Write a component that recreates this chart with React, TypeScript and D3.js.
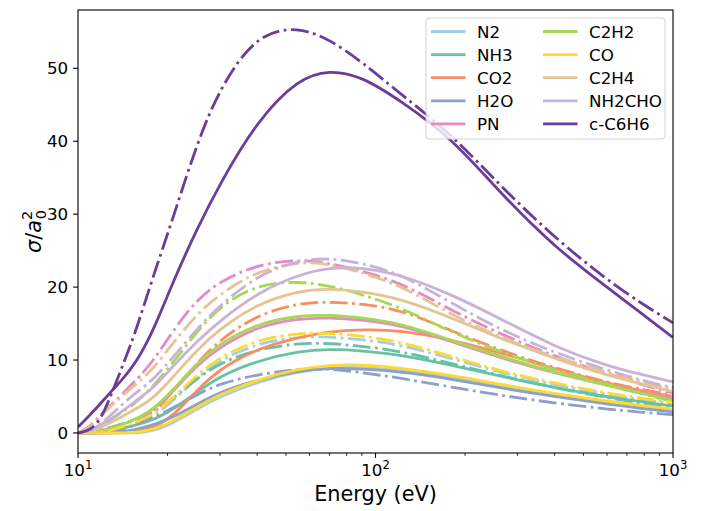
import React from "react";
import * as d3 from "d3";

const energies = [10, 11, 12, 13, 14, 15, 16, 18, 21, 25, 30, 40, 55, 70, 90, 122, 180, 268, 400, 590, 800, 1000];

const molecules = ["N2", "NH3", "CO2", "H2O", "PN", "C2H2", "CO", "C2H4", "NH2CHO", "c-C6H6"];
const colors = ["#a6cee3", "#66c2a5", "#fc8d62", "#8da0cb", "#e78ac3", "#a6d854", "#ffd92f", "#e5c494", "#cab2d6", "#6a3d9a"];

const n2Solid = [0, 0, 0, 0, 0, 0, 0.02, 0.25, 1.4, 3.2, 5.0, 7.0, 8.4, 8.95, 9.05, 8.6, 7.6, 6.4, 5.2, 4.2, 3.5, 3.1];
const n2Dash = [0, 0, 0.05, 0.2, 0.5, 0.9, 1.3, 2.3, 4.5, 7.5, 10.0, 12.3, 13.2, 13.2, 12.8, 12.1, 10.2, 8.2, 6.6, 5.3, 4.5, 4.0];
const nh3Solid = [0, 0.05, 0.2, 0.4, 0.65, 0.9, 1.2, 1.8, 3.3, 5.5, 7.8, 9.9, 11.2, 11.5, 11.3, 10.7, 9.3, 7.7, 6.2, 5.0, 4.2, 3.7];
const nh3Dash = [0, 0.1, 0.4, 0.8, 1.2, 1.6, 2.0, 2.8, 4.8, 7.4, 9.6, 11.5, 12.3, 12.3, 11.9, 11.2, 9.5, 7.8, 6.2, 4.9, 4.0, 3.5];
const co2Solid = [0, 0, 0, 0, 0.02, 0.15, 0.3, 0.7, 2.4, 5.8, 8.8, 11.6, 13.1, 13.9, 14.2, 14.1, 12.8, 10.9, 8.8, 6.9, 5.7, 5.0];
const co2Dash = [0, 0, 0, 0.1, 0.4, 0.9, 1.5, 2.8, 5.8, 9.5, 12.8, 16.2, 17.8, 18.0, 17.7, 16.9, 14.0, 11.2, 8.9, 7.0, 5.9, 5.2];
const h2oSolid = [0, 0, 0, 0.02, 0.15, 0.35, 0.6, 1.1, 2.2, 3.9, 5.6, 7.3, 8.5, 8.9, 8.8, 8.4, 7.4, 6.1, 5.0, 4.0, 3.3, 2.9];
const h2oDash = [0, 0, 0, 0.2, 0.5, 0.9, 1.3, 2.1, 3.5, 5.2, 6.8, 8.0, 8.8, 8.8, 8.3, 7.5, 6.3, 5.1, 4.1, 3.3, 2.8, 2.5];
const pnSolid = [0, 0.05, 0.3, 0.7, 1.1, 1.6, 2.1, 3.2, 5.8, 9.2, 11.8, 14.6, 15.7, 15.8, 15.5, 14.8, 12.5, 10.2, 8.2, 6.6, 5.5, 4.8];
const pnDash = [0, 0.8, 2.7, 3.9, 5.2, 6.5, 7.6, 10.0, 14.2, 18.2, 20.8, 23.1, 23.8, 23.3, 22.2, 20.6, 16.8, 13.4, 10.5, 8.2, 6.5, 5.5];
const c2h2Solid = [0, 0, 0.2, 0.6, 1.1, 1.6, 2.1, 3.3, 6.0, 9.5, 12.3, 15.0, 16.1, 16.2, 15.8, 15.0, 12.7, 10.4, 8.3, 6.6, 5.3, 4.5];
const c2h2Dash = [0, 0.2, 1.0, 1.9, 2.8, 3.6, 4.5, 6.5, 9.8, 13.8, 17.4, 20.4, 20.8, 20.2, 19.0, 17.2, 13.8, 11.0, 8.6, 6.8, 5.3, 4.3];
const coSolid = [0, 0, 0, 0, 0, 0.05, 0.15, 0.45, 1.7, 3.5, 5.3, 7.3, 8.8, 9.3, 9.4, 8.9, 7.9, 6.6, 5.4, 4.4, 3.7, 3.3];
const coDash = [0, 0.02, 0.15, 0.4, 0.8, 1.2, 1.6, 2.6, 4.9, 7.9, 10.4, 12.8, 13.7, 13.7, 13.3, 12.5, 10.5, 8.4, 6.8, 5.5, 4.7, 4.2];
const c2h4Solid = [0, 0.2, 0.8, 1.5, 2.2, 2.9, 3.5, 4.8, 7.8, 11.3, 14.3, 17.7, 19.5, 19.8, 19.4, 18.4, 15.8, 12.8, 10.2, 8.0, 6.6, 5.7];
const c2h4Dash = [0, 0.6, 2.5, 3.8, 5.0, 6.0, 7.0, 8.9, 12.5, 16.2, 19.1, 22.2, 23.5, 23.2, 22.0, 20.2, 16.2, 12.9, 10.4, 8.4, 6.9, 6.0];
const nh2choSolid = [0, 0.3, 1.2, 2.0, 2.9, 3.8, 4.7, 6.2, 9.3, 12.5, 15.4, 19.2, 21.7, 22.7, 22.7, 21.7, 19.0, 15.5, 11.8, 9.3, 7.9, 7.0];
const nh2choDash = [0, 0.3, 1.3, 2.6, 3.8, 4.9, 5.8, 7.4, 10.5, 14.2, 17.5, 21.6, 23.7, 24.0, 23.3, 21.8, 17.8, 14.0, 11.0, 8.7, 7.1, 6.2];
const c6h6Solid = [0.8, 2.5, 4.2, 5.8, 7.2, 8.7, 10.3, 14.2, 21.0, 27.8, 34.2, 42.8, 48.6, 49.8, 48.9, 45.5, 40.5, 32.5, 25.5, 20.2, 16.1, 13.1];
const c6h6Dash = [0, 0.3, 2.0, 5.5, 8.8, 12.0, 15.2, 21.8, 29.8, 39.5, 47.4, 54.8, 55.7, 54.0, 50.9, 46.4, 41.0, 33.5, 26.8, 21.2, 17.5, 15.1];

const solidSeries = [n2Solid, nh3Solid, co2Solid, h2oSolid, pnSolid, c2h2Solid, coSolid, c2h4Solid, nh2choSolid, c6h6Solid];
const dashSeries = [n2Dash, nh3Dash, co2Dash, h2oDash, pnDash, c2h2Dash, coDash, c2h4Dash, nh2choDash, c6h6Dash];

const yTicks = [0, 10, 20, 30, 40, 50];
const xMajor = [10, 100, 1000];
const xExponents = ["1", "2", "3"];

const W = 714, H = 511;
const L = 78, R = 673, T = 10, B = 453;
const FONT = "DejaVu Sans, Liberation Sans, sans-serif";

export default function App() {
  const x = d3.scaleLog().domain([10, 1000]).range([L, R]);
  const y = d3.scaleLinear().domain([-2.75, 58.0]).range([B, T]);
  const line = d3
    .line<number>()
    .x((_, i) => x(energies[i]))
    .y((v) => y(v))
    .curve(d3.curveBasis);

  const minor: number[] = [];
  [10, 100].forEach((dec) => {
    for (let k = 2; k <= 9; k++) minor.push(dec * k);
  });

  const lw = 2.8;
  const dash = [6.4 * lw, 1.6 * lw, 1.0 * lw, 1.6 * lw].join(",");

  const legX = [431, 543];
  const legRow0 = 31.5;
  const legStep = 23.1;

  return (
    <svg width={W} height={H} style={{ position: "absolute", left: 0, top: 0, background: "#fff" }} fontFamily={FONT}>
      <defs>
        <clipPath id="plotClip">
          <rect x={L} y={T} width={R - L} height={B - T} />
        </clipPath>
      </defs>
      <rect x={0} y={0} width={W} height={H} fill="#fff" />
      <g clipPath="url(#plotClip)">
        {molecules.map((m, i) => (
          <g key={m}>
            <path d={line(solidSeries[i]) || ""} fill="none" stroke={colors[i]} strokeWidth={lw} strokeLinejoin="round" />
            <path d={line(dashSeries[i]) || ""} fill="none" stroke={colors[i]} strokeWidth={lw} strokeDasharray={dash} strokeLinejoin="round" />
          </g>
        ))}
      </g>
      <rect x={L} y={T} width={R - L} height={B - T} fill="none" stroke="#000" strokeWidth={1.1} />
      {yTicks.map((t) => (
        <g key={"y" + t}>
          <line x1={L - 4.9} x2={L} y1={y(t)} y2={y(t)} stroke="#000" strokeWidth={1.1} />
          <text x={L - 9.8} y={y(t) + 6} textAnchor="end" fontSize={16.7} fill="#000">
            {t}
          </text>
        </g>
      ))}
      {xMajor.map((t, i) => (
        <g key={"x" + t}>
          <line x1={x(t)} x2={x(t)} y1={B} y2={B + 4.9} stroke="#000" strokeWidth={1.1} />
          <text x={x(t)} y={476} textAnchor="middle" fontSize={16.7} fill="#000">
            10
            <tspan fontSize={11.7} dy={-7}>
              {xExponents[i]}
            </tspan>
          </text>
        </g>
      ))}
      {minor.map((t) => (
        <line key={"m" + t} x1={x(t)} x2={x(t)} y1={B} y2={B + 2.8} stroke="#000" strokeWidth={0.85} />
      ))}
      <text x={(L + R) / 2} y={501} textAnchor="middle" fontSize={20.8} fill="#000">
        Energy (eV)
      </text>
      <text transform={`translate(41,${(T + B) / 2}) rotate(-90)`} textAnchor="middle" fontSize={20.8} fill="#000">
        <tspan fontStyle="italic">σ</tspan>/<tspan fontStyle="italic">a</tspan>
        <tspan fontSize={14.5} dy={-9}>2</tspan>
        <tspan fontSize={14.5} dx={-8.5} dy={14}>0</tspan>
      </text>
      <rect x={426} y={18} width={239} height={121} rx={3.5} ry={3.5} fill="#fff" fillOpacity={0.8} stroke="#cccccc" strokeOpacity={0.8} strokeWidth={1.1} />
      {molecules.map((m, i) => {
        const col = Math.floor(i / 5);
        const row = i % 5;
        const cy = legRow0 + row * legStep;
        const hx = legX[col];
        return (
          <g key={"leg" + m}>
            <line x1={hx} x2={hx + 34.5} y1={cy} y2={cy} stroke={colors[i]} strokeWidth={lw} />
            <text x={hx + 46} y={cy + 6} fontSize={16.7} fill="#000">
              {m}
            </text>
          </g>
        );
      })}
    </svg>
  );
}
